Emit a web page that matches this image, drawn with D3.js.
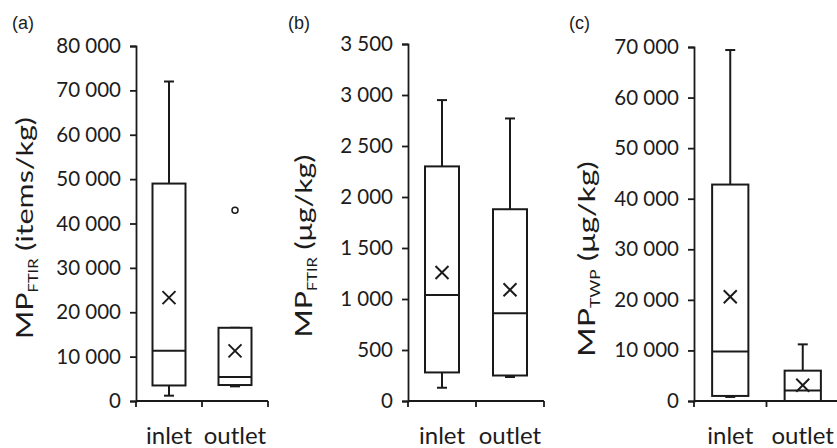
<!DOCTYPE html>
<html><head><meta charset="utf-8">
<script src="https://cdn.jsdelivr.net/npm/d3@7"></script>
<style>body{margin:0;background:#fff}svg{display:block}</style></head>
<body>
<svg id="chart" width="837" height="448"></svg>
<script>
// ---------------- data ----------------
const categories = ["inlet", "outlet"];
const panelLetters = ["(a)", "(b)", "(c)"];
const titleMain = ["MP", "MP", "MP"];
const titleSub = ["FTIR", "FTIR", "TWP"];
const titleUnit = [" (items/kg)", " (μg/kg)", " (μg/kg)"];

const ticksA = [0, 10000, 20000, 30000, 40000, 50000, 60000, 70000, 80000];
const ticksB = [0, 500, 1000, 1500, 2000, 2500, 3000, 3500];
const ticksC = [0, 10000, 20000, 30000, 40000, 50000, 60000, 70000];

// panel (a) MP FTIR items/kg
const aLow = [1200, 3300];
const aQ1 = [3500, 3600];
const aMedian = [11300, 5400];
const aQ3 = [49000, 16500];
const aHigh = [72000, 16500];
const aMean = [23300, 11300];
const aOutliers = [[], [43000]];

// panel (b) MP FTIR µg/kg
const bLow = [130, 235];
const bQ1 = [280, 250];
const bMedian = [1040, 860];
const bQ3 = [2300, 1880];
const bHigh = [2950, 2770];
const bMean = [1260, 1090];
const bOutliers = [[], []];

// panel (c) MP TWP µg/kg
const cLow = [800, 0];
const cQ1 = [1000, 0];
const cMedian = [9800, 2100];
const cQ3 = [42800, 6000];
const cHigh = [69400, 11200];
const cMean = [20600, 3100];
const cOutliers = [[], []];

// ---------------- layout ----------------
const layout = [
  {left: 136, right: 268, top: 46, bottom: 401, titleX: 33, titleY: 228, titleLen: 222, letterX: 12},
  {left: 408, right: 544, top: 44, bottom: 401, titleX: 312, titleY: 246, titleLen: 183, letterX: 288},
  {left: 694, right: 839, top: 47, bottom: 401, titleX: 595, titleY: 259, titleLen: 196, letterX: 569}
];

const panels = [
  {ticks: ticksA, low: aLow, q1: aQ1, med: aMedian, q3: aQ3, high: aHigh, mean: aMean, out: aOutliers},
  {ticks: ticksB, low: bLow, q1: bQ1, med: bMedian, q3: bQ3, high: bHigh, mean: bMean, out: bOutliers},
  {ticks: ticksC, low: cLow, q1: cQ1, med: cMedian, q3: cQ3, high: cHigh, mean: cMean, out: cOutliers}
];

const ink = "#1a1a1a";
const fmt = v => d3.format(",")(v).replace(/,/g, " ");
const svg = d3.select("#chart");

panels.forEach((p, i) => {
  const L = layout[i];
  const g = svg.append("g");
  const y = d3.scaleLinear().domain([0, d3.max(p.ticks)]).range([L.bottom, L.top]);
  const x = d3.scaleBand().domain(categories).range([L.left, L.right]).paddingInner(0).paddingOuter(0);

  // y axis
  const ya = g.append("g").attr("transform", `translate(${L.left},0)`)
    .call(d3.axisLeft(y).tickValues(p.ticks).tickFormat(fmt).tickSize(6).tickPadding(9));
  ya.select(".domain").attr("stroke", ink).attr("stroke-width", 1.8);
  ya.selectAll(".tick line").attr("stroke", ink).attr("stroke-width", 1.8);
  ya.selectAll(".tick text").attr("fill", "#1c1c1c").style("font-family", "Lato").style("font-size", "20.5px");

  // x axis
  g.append("line").attr("x1", L.left).attr("x2", L.right).attr("y1", L.bottom).attr("y2", L.bottom)
    .attr("stroke", ink).attr("stroke-width", 1.8);
  const bounds = [L.left, x(categories[1]), L.right];
  g.selectAll(".xt").data(bounds).enter().append("line")
    .attr("x1", d => d).attr("x2", d => d).attr("y1", L.bottom).attr("y2", L.bottom + 6)
    .attr("stroke", ink).attr("stroke-width", 1.8);
  g.selectAll(".xl").data(categories).enter().append("text")
    .attr("x", d => x(d) + x.bandwidth() / 2).attr("y", 444)
    .attr("text-anchor", "middle").attr("fill", "#1c1c1c")
    .style("font-family", "Lato").style("font-size", "24px").text(d => d);

  // boxes
  const bw = x.bandwidth() * 0.5;
  const cap = 10;
  categories.forEach((c, j) => {
    const cx = x(c) + x.bandwidth() / 2;
    const line = (x1, y1, x2, y2) => g.append("line").attr("x1", x1).attr("y1", y1).attr("x2", x2).attr("y2", y2)
      .attr("stroke", ink).attr("stroke-width", 2);
    // whiskers
    line(cx, y(p.q3[j]), cx, y(p.high[j]));
    line(cx - cap / 2, y(p.high[j]), cx + cap / 2, y(p.high[j]));
    line(cx, y(p.q1[j]), cx, y(p.low[j]));
    line(cx - cap / 2, y(p.low[j]), cx + cap / 2, y(p.low[j]));
    // box
    g.append("rect").attr("x", cx - bw / 2).attr("y", y(p.q3[j]))
      .attr("width", bw).attr("height", y(p.q1[j]) - y(p.q3[j]))
      .attr("fill", "#fff").attr("stroke", ink).attr("stroke-width", 2);
    line(cx - bw / 2, y(p.med[j]), cx + bw / 2, y(p.med[j]));
    // mean marker
    const m = 6.5, my = y(p.mean[j]);
    line(cx - m, my - m, cx + m, my + m);
    line(cx - m, my + m, cx + m, my - m);
    // outliers
    p.out[j].forEach(o => {
      g.append("circle").attr("cx", cx).attr("cy", y(o)).attr("r", 3)
        .attr("fill", "#fff").attr("stroke", ink).attr("stroke-width", 1.5);
    });
  });

  // y title (stretched along its length to match the reference)
  const t = g.append("text")
    .attr("text-anchor", "middle").attr("fill", "#1c1c1c")
    .style("font-family", "Lato").style("font-size", "24px");
  t.append("tspan").text(titleMain[i]);
  t.append("tspan").attr("dy", 5).style("font-size", "13px").text(titleSub[i]);
  t.append("tspan").attr("dy", -5).text(titleUnit[i]);
  const len = t.node().getComputedTextLength();
  const s = L.titleLen / len;
  t.attr("transform", `translate(${L.titleX},${L.titleY}) rotate(-90) scale(${s},1)`);

  // panel letter
  g.append("text").attr("x", L.letterX).attr("y", 29).attr("fill", "#1c1c1c")
    .style("font-family", "Liberation Sans").style("font-size", "18px").text(panelLetters[i]);
});
</script>
</body></html>
